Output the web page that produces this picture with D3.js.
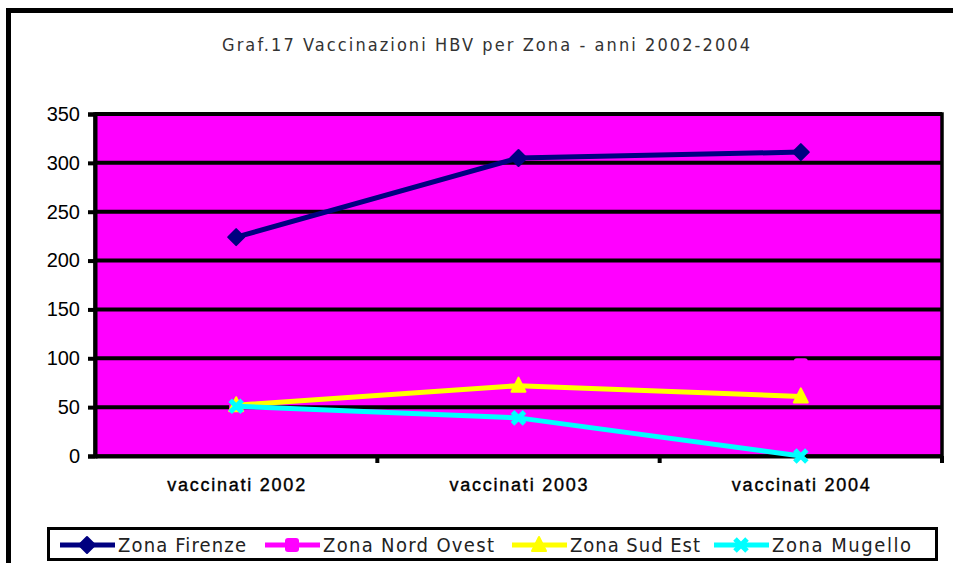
<!DOCTYPE html>
<html>
<head>
<meta charset="utf-8">
<script src="https://cdn.jsdelivr.net/npm/d3@7"></script>
<style>
  body { margin: 0; background: #fff; }
  svg { display: block; }
</style>
</head>
<body>
<svg id="chart"></svg>
<script>
// Data
const categories = ["vaccinati 2002", "vaccinati 2003", "vaccinati 2004"];
const seriesNames = ["Zona Firenze", "Zona Nord Ovest", "Zona Sud Est", "Zona Mugello"];
const firenze = [224, 305, 311];
const nordOvest = [52, 70, 93];
const sudEst = [52, 72, 61];
const mugello = [51, 39, 0];
const yTicks = [0, 50, 100, 150, 200, 250, 300, 350];

const seriesColors = ["#000080", "#FF00FF", "#FFFF00", "#00FFFF"];
const seriesMarkers = ["diamond", "square", "triangle", "cross"];

const series = [firenze, nordOvest, sudEst, mugello].map((values, i) => ({
  name: seriesNames[i],
  color: seriesColors[i],
  marker: seriesMarkers[i],
  values: values
}));

const width = 953;
const height = 563;
const margin = { top: 114, right: 11, bottom: 107, left: 95 };
const font = "'Liberation Sans', Arial, sans-serif";
const narrowFont = "'Liberation Sans Narrow', 'Arial Narrow', 'DejaVu Sans Condensed', sans-serif";

const svg = d3.select("#chart")
  .attr("width", width)
  .attr("height", height);

// Outer frame (extends past the window on the right and bottom)
svg.append("rect")
  .attr("x", 8.5)
  .attr("y", 10.5)
  .attr("width", 1000)
  .attr("height", 600)
  .attr("fill", "#fff")
  .attr("stroke", "#000")
  .attr("stroke-width", 5);

// Title
svg.append("text")
  .attr("x", 486)
  .attr("y", 51)
  .attr("text-anchor", "middle")
  .attr("font-family", narrowFont)
  .attr("font-size", "18px")
  .attr("fill", "#333")
  .attr("textLength", 528)
  .attr("lengthAdjust", "spacing")
  .text("Graf.17 Vaccinazioni HBV per Zona - anni 2002-2004");

const x = d3.scaleBand()
  .domain(categories)
  .range([margin.left, width - margin.right]);

const y = d3.scaleLinear()
  .domain([0, 350])
  .range([height - margin.bottom, margin.top]);

// Plot background
svg.append("rect")
  .attr("x", margin.left)
  .attr("y", margin.top)
  .attr("width", width - margin.left - margin.right)
  .attr("height", height - margin.top - margin.bottom)
  .attr("fill", "#FF00FF")
  .attr("stroke", "#000")
  .attr("stroke-width", 3.5);

// Gridlines
svg.append("g")
  .selectAll("line")
  .data(yTicks.filter(d => d > 0))
  .enter()
  .append("line")
  .attr("x1", margin.left)
  .attr("x2", width - margin.right)
  .attr("y1", d => y(d))
  .attr("y2", d => y(d))
  .attr("stroke", "#000")
  .attr("stroke-width", 4);

// Y axis
const yAxis = svg.append("g")
  .attr("transform", `translate(${margin.left},0)`)
  .call(d3.axisLeft(y).tickValues(yTicks).tickSize(7).tickPadding(8));
yAxis.select(".domain").attr("stroke", "#000").attr("stroke-width", 4);
yAxis.selectAll(".tick line").attr("stroke", "#000").attr("stroke-width", 4);
yAxis.selectAll(".tick text")
  .attr("font-family", font)
  .attr("font-size", "20px")
  .attr("fill", "#000");

// X axis
const xAxis = svg.append("g")
  .attr("transform", `translate(0,${height - margin.bottom})`)
  .call(d3.axisBottom(x).tickSize(0).tickPadding(22));
xAxis.select(".domain").attr("stroke", "#000").attr("stroke-width", 4);
xAxis.selectAll(".tick text")
  .attr("font-family", font)
  .attr("font-size", "18px")
  .attr("fill", "#000")
  .attr("stroke", "#000")
  .attr("stroke-width", 0.4)
  .attr("textLength", 138)
  .attr("lengthAdjust", "spacing");

// x tick marks at band boundaries
svg.append("g")
  .selectAll("line")
  .data(categories)
  .enter()
  .append("line")
  .attr("x1", d => x(d) + x.bandwidth())
  .attr("x2", d => x(d) + x.bandwidth())
  .attr("y1", height - margin.bottom)
  .attr("y2", height - margin.bottom + 7)
  .attr("stroke", "#000")
  .attr("stroke-width", 4);

// Marker drawing
function drawMarker(g, type, color, cx, cy) {
  if (type === "diamond") {
    g.append("path")
      .attr("d", `M${cx},${cy - 8}L${cx + 8},${cy}L${cx},${cy + 8}L${cx - 8},${cy}Z`)
      .attr("fill", color)
      .attr("stroke", color)
      .attr("stroke-width", 2)
      .attr("stroke-linejoin", "round");
  } else if (type === "square") {
    g.append("rect")
      .attr("x", cx - 7)
      .attr("y", cy - 7)
      .attr("width", 14)
      .attr("height", 14)
      .attr("rx", 3)
      .attr("fill", color);
  } else if (type === "triangle") {
    g.append("path")
      .attr("d", `M${cx},${cy - 8}L${cx + 7},${cy + 6}L${cx - 7},${cy + 6}Z`)
      .attr("fill", color)
      .attr("stroke", color)
      .attr("stroke-width", 2)
      .attr("stroke-linejoin", "round");
  } else {
    g.append("path")
      .attr("d", `M${cx - 6},${cy - 6}L${cx + 6},${cy + 6}M${cx + 6},${cy - 6}L${cx - 6},${cy + 6}`)
      .attr("stroke", color)
      .attr("stroke-width", 5);
  }
}

const line = d3.line()
  .x((d, i) => x(categories[i]) + x.bandwidth() / 2)
  .y(d => y(d));

series.forEach(s => {
  const g = svg.append("g");
  g.append("path")
    .datum(s.values)
    .attr("d", line)
    .attr("fill", "none")
    .attr("stroke", s.color)
    .attr("stroke-width", 5);
  s.values.forEach((v, i) => {
    drawMarker(g, s.marker, s.color, x(categories[i]) + x.bandwidth() / 2, y(v));
  });
});

// Legend
const legend = svg.append("g");
legend.append("rect")
  .attr("x", 48.5)
  .attr("y", 528.5)
  .attr("width", 888)
  .attr("height", 31)
  .attr("fill", "#fff")
  .attr("stroke", "#000")
  .attr("stroke-width", 3);

const legendX = [60, 265, 512, 714];
const legendTextLen = [128, 171, 130, 139];
series.forEach((s, i) => {
  const lx = legendX[i];
  const ly = 545;
  const item = legend.append("g");
  item.append("line")
    .attr("x1", lx)
    .attr("x2", lx + 55)
    .attr("y1", ly)
    .attr("y2", ly)
    .attr("stroke", s.color)
    .attr("stroke-width", 5);
  drawMarker(item, s.marker, s.color, lx + 27, ly);
  item.append("text")
    .attr("x", lx + 58)
    .attr("y", ly + 7)
    .attr("font-family", narrowFont)
    .attr("font-size", "20px")
    .attr("fill", "#222")
    .attr("textLength", legendTextLen[i])
    .attr("lengthAdjust", "spacing")
    .text(s.name);
});
</script>
</body>
</html>
